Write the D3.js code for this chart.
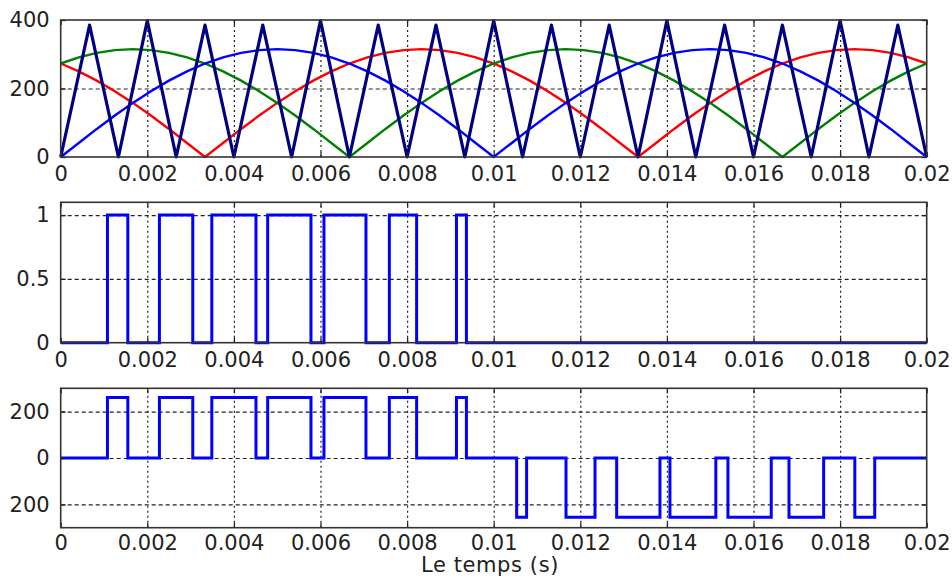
<!DOCTYPE html>
<html>
<head>
<meta charset="utf-8">
<script src="https://cdn.jsdelivr.net/npm/d3@7"></script>
<style>
  body { margin: 0; background: #fff; }
  svg { display: block; }
</style>
</head>
<body>
<div id="chart"></div>
<script>
// time axis shared by the three reference sines (s)
const tSine = [0, 0.000417, 0.000833, 0.00125, 0.001667, 0.002083, 0.0025, 0.002917, 0.003333, 0.00375,
  0.004167, 0.004583, 0.005, 0.005417, 0.005833, 0.00625, 0.006667, 0.007083, 0.0075, 0.007917,
  0.008333, 0.00875, 0.009167, 0.009583, 0.01, 0.010417, 0.010833, 0.01125, 0.011667, 0.012083,
  0.0125, 0.012917, 0.013333, 0.01375, 0.014167, 0.014583, 0.015, 0.015417, 0.015833, 0.01625,
  0.016667, 0.017083, 0.0175, 0.017917, 0.018333, 0.01875, 0.019167, 0.019583, 0.02];

const redValues = [273, 250, 223, 192, 158, 121, 82, 41,
  0, 41, 82, 121, 158, 192, 223, 250, 273, 291, 304, 312, 315, 312, 304, 291, 273, 250, 223, 192, 158, 121, 82, 41,
  0, 41, 82, 121, 158, 192, 223, 250, 273, 291, 304, 312, 315, 312, 304, 291, 273];

const greenValues = [273, 291, 304, 312, 315, 312, 304, 291, 273, 250, 223, 192, 158, 121, 82, 41,
  0, 41, 82, 121, 158, 192, 223, 250, 273, 291, 304, 312, 315, 312, 304, 291, 273, 250, 223, 192, 158, 121, 82, 41,
  0, 41, 82, 121, 158, 192, 223, 250, 273];

const blueValues = [0, 41, 82, 121, 158, 192, 223, 250, 273, 291, 304, 312, 315, 312, 304, 291, 273, 250, 223, 192, 158, 121, 82, 41,
  0, 41, 82, 121, 158, 192, 223, 250, 273, 291, 304, 312, 315, 312, 304, 291, 273, 250, 223, 192, 158, 121, 82, 41,
  0];

// triangular carrier vertices
const tCarrier = [0, 0.000667, 0.001333, 0.002, 0.002667, 0.003333, 0.004, 0.004667, 0.005333, 0.006,
  0.006667, 0.007333, 0.008, 0.008667, 0.009333, 0.01, 0.010667, 0.011333, 0.012, 0.012667,
  0.013333, 0.014, 0.014667, 0.015333, 0.016, 0.016667, 0.017333, 0.018, 0.018667, 0.019333, 0.02];
const carrierValues = [0, 385, 0, 398, 0, 385, 0, 385, 0, 398, 0, 385, 0, 385, 0, 398,
  0, 385, 0, 385, 0, 398, 0, 385, 0, 385, 0, 398, 0, 385, 0];

// gate signal switching instants
const gateRise = [0.00108, 0.00228, 0.00349, 0.00478, 0.00608, 0.00759, 0.00914];
const gateFall = [0.00155, 0.00305, 0.00451, 0.00578, 0.00705, 0.00822, 0.00937];

// output voltage, negative half
const negFall = [0.01053, 0.01167, 0.01284, 0.01407, 0.01541, 0.01682, 0.01834];
const negRise = [0.01076, 0.01234, 0.01384, 0.01513, 0.01641, 0.01762, 0.0188];
const vPos = 260;
const vNeg = -255;

const xTicks = [0, 0.002, 0.004, 0.006, 0.008, 0.01, 0.012, 0.014, 0.016, 0.018, 0.02];
const xTickLabels = ["0", "0.002", "0.004", "0.006", "0.008", "0.01", "0.012", "0.014", "0.016", "0.018", "0.02"];

const yTicksTop = [0, 200, 400];
const yLabelsTop = ["0", "200", "400"];
const yTicksMid = [0, 0.5, 1];
const yLabelsMid = ["0", "0.5", "1"];
const yTicksBot = [-200, 0, 200];
const yLabelsBot = ["200", "0", "200"];

const xLabel = "Le temps (s)";

(function () {
  const W = 952, H = 581;
  const font = "DejaVu Sans";
  const ink = "#222";

  const svg = d3.select("#chart").append("svg")
    .attr("width", W)
    .attr("height", H);

  const x = d3.scaleLinear().domain([0, 0.02]).range([60.7, 926.7]);

  const panels = [
    { top: 20, bottom: 157, domain: [0, 400], ticks: yTicksTop, labels: yLabelsTop, grid: [200], pad: 9 },
    { top: 202.3, bottom: 342.7, domain: [0, 1.1], ticks: yTicksMid, labels: yLabelsMid, grid: [0.5, 1], pad: 9 },
    { top: 388.3, bottom: 527.7, domain: [-300, 300], ticks: yTicksBot, labels: yLabelsBot, grid: [-200, 0, 200], pad: 7 }
  ];

  panels.forEach(p => {
    p.y = d3.scaleLinear().domain(p.domain).range([p.bottom, p.top]);
  });

  function drawFrame(p) {
    const g = svg.append("g");
    const x0 = x.range()[0], x1 = x.range()[1];
    const ph = p.bottom - p.top, pw = x1 - x0;

    // vertical grid (dotted)
    g.append("g")
      .attr("transform", `translate(0,${p.bottom})`)
      .call(d3.axisBottom(x).tickValues(xTicks.slice(1, -1)).tickSize(-ph).tickFormat(""))
      .call(a => a.select(".domain").remove())
      .selectAll("line")
      .attr("stroke", ink)
      .attr("stroke-width", 1.2)
      .attr("stroke-dasharray", "2,3");

    // horizontal grid (dashed)
    g.append("g")
      .attr("transform", `translate(${x0},0)`)
      .call(d3.axisLeft(p.y).tickValues(p.grid).tickSize(-pw).tickFormat(""))
      .call(a => a.select(".domain").remove())
      .selectAll("line")
      .attr("stroke", ink)
      .attr("stroke-width", 1.2)
      .attr("stroke-dasharray", "4,3");
    return g;
  }

  function drawAxes(p) {
    const g = svg.append("g").attr("color", ink);
    const x0 = x.range()[0], x1 = x.range()[1];

    const bottomAxis = g.append("g")
      .attr("transform", `translate(0,${p.bottom})`)
      .call(d3.axisBottom(x).tickValues(xTicks).tickSize(-5).tickSizeOuter(0).tickPadding(p.pad)
        .tickFormat((d, i) => xTickLabels[i]));
    const leftAxis = g.append("g")
      .attr("transform", `translate(${x0},0)`)
      .call(d3.axisLeft(p.y).tickValues(p.ticks).tickSize(-5).tickSizeOuter(0).tickPadding(11)
        .tickFormat((d, i) => p.labels[i]));
    g.append("g")
      .attr("transform", `translate(0,${p.top})`)
      .call(d3.axisTop(x).tickValues(xTicks).tickSize(-5).tickSizeOuter(0).tickFormat(""));
    g.append("g")
      .attr("transform", `translate(${x1},0)`)
      .call(d3.axisRight(p.y).tickValues(p.ticks).tickSize(-5).tickSizeOuter(0).tickFormat(""));

    g.selectAll(".domain").remove();
    g.selectAll(".tick line").attr("stroke-width", 1.3);
    [bottomAxis, leftAxis].forEach(a => a.selectAll("text")
      .attr("font-family", font)
      .attr("font-size", 21)
      .attr("fill", ink));

    g.append("rect")
      .attr("x", x0)
      .attr("y", p.top)
      .attr("width", x1 - x0)
      .attr("height", p.bottom - p.top)
      .attr("fill", "none")
      .attr("stroke", "#333")
      .attr("stroke-width", 1.6);
  }

  function stepPoints(pulses) {
    const pts = [[0, 0]];
    pulses.forEach(s => {
      pts.push([s.a, 0], [s.a, s.v], [s.b, s.v], [s.b, 0]);
    });
    pts.push([0.02, 0]);
    return pts;
  }

  // ---- panel 1: references and carrier
  const p1 = panels[0];
  drawFrame(p1);
  const line1 = d3.line().x(d => x(d[0])).y(d => p1.y(d[1]));
  const sines = [
    { values: redValues, color: "#ff0000" },
    { values: greenValues, color: "#008000" },
    { values: blueValues, color: "#0000ff" }
  ];
  sines.forEach(s => {
    svg.append("path")
      .datum(tSine.map((t, i) => [t, s.values[i]]))
      .attr("fill", "none")
      .attr("stroke", s.color)
      .attr("stroke-width", 2.4)
      .attr("d", line1);
  });
  svg.append("path")
    .datum(tCarrier.map((t, i) => [t, carrierValues[i]]))
    .attr("fill", "none")
    .attr("stroke", "#000080")
    .attr("stroke-width", 3.2)
    .attr("stroke-linejoin", "round")
    .attr("d", line1);
  drawAxes(p1);

  // ---- panel 2: gate signal
  const p2 = panels[1];
  drawFrame(p2);
  const gatePts = stepPoints(gateRise.map((r, i) => ({ a: r, b: gateFall[i], v: 1 })));
  svg.append("path")
    .datum(gatePts)
    .attr("fill", "none")
    .attr("stroke", "#0000ff")
    .attr("stroke-width", 3)
    .attr("d", d3.line().x(d => x(d[0])).y(d => p2.y(d[1])));
  drawAxes(p2);

  // ---- panel 3: output voltage
  const p3 = panels[2];
  drawFrame(p3);
  const outPulses = gateRise.map((r, i) => ({ a: r, b: gateFall[i], v: vPos }))
    .concat(negFall.map((f, i) => ({ a: f, b: negRise[i], v: vNeg })));
  svg.append("path")
    .datum(stepPoints(outPulses))
    .attr("fill", "none")
    .attr("stroke", "#0000ff")
    .attr("stroke-width", 3)
    .attr("d", d3.line().x(d => x(d[0])).y(d => p3.y(d[1])));
  drawAxes(p3);

  svg.append("text")
    .attr("x", 490)
    .attr("y", 572)
    .attr("text-anchor", "middle")
    .attr("font-family", font)
    .attr("font-size", 21)
    .attr("letter-spacing", 0.6)
    .attr("fill", ink)
    .text(xLabel);
})();
</script>
</body>
</html>
